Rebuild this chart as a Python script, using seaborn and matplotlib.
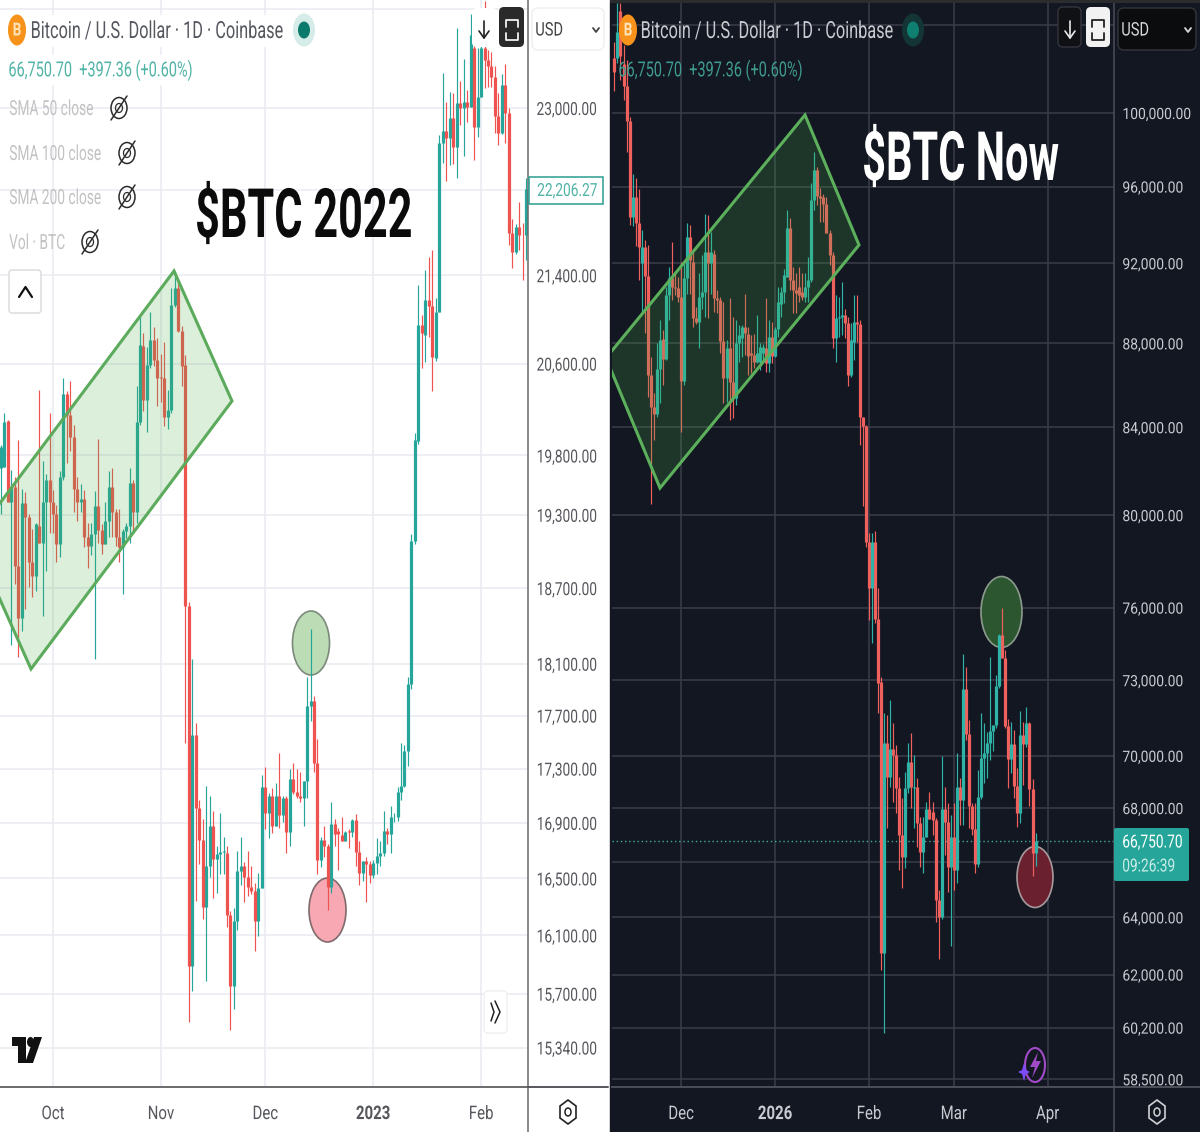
import numpy as np
import pandas as pd
import seaborn as sns
import matplotlib
matplotlib.use("Agg")
import matplotlib.pyplot as plt
from matplotlib.patches import Ellipse, Polygon, Rectangle, FancyBboxPatch
from matplotlib.patheffects import AbstractPathEffect
from matplotlib.ticker import NullLocator
from matplotlib.transforms import Affine2D

# left chart: BTC, days counted from 1 Oct 2022
days_2022 = np.arange(-15, 137)
open_2022 = [19697,19705,20100,19403,19530,18875,18457,19395,19285,18910,
    18800,19210,19070,19403,19590,19410,19310,19055,19620,20335,
    20150,19955,19520,19410,19435,19120,19045,19145,19370,19170,
    19055,19250,19535,19320,19120,19030,19165,19205,19570,19320,
    20085,20760,20283,20590,20814,20636,20485,20475,20135,20195,
    21130,21285,20895,20585,18553,15887,17549,17005,16775,16296,
    16585,16875,16637,16675,16690,16680,16240,15750,16200,16550,
    16590,16510,16440,16410,16200,16435,17160,16975,17095,16880,
    17100,16955,17085,16830,17220,17125,17100,17080,17205,17770,
    17810,17345,16630,16775,16735,16440,16890,16840,16810,16765,
    16840,16830,16920,16690,16540,16625,16600,16525,16610,16660,
    16680,16840,16820,16945,16945,17125,17170,17430,17940,19080,
    19920,20950,20860,21176,21120,20650,21065,22660,22775,22705,
    22900,22620,23050,23000,23060,23010,23600,22815,23110,23600,
    23480,23420,23310,22920,22755,23230,22950,21795,21615,21850,
    21775,21770]
high_2022 = [19893,20170,20109,19680,19620,19936,19520,19495,19305,19180,
    19235,20370,19755,19640,20170,19510,19385,19665,20477,20360,
    20450,20060,19620,19555,19510,19235,19235,19500,19945,19220,
    19410,19665,19690,19345,19345,19180,19235,19690,19596,20405,
    21020,20870,20750,21065,20930,20830,20690,20795,20370,21285,
    21435,21360,20935,20680,18585,18134,17640,17065,16926,17170,
    17100,16985,16735,16975,16800,16730,16270,16290,16695,16795,
    16620,16695,16590,16470,16535,17255,17310,17120,17155,17190,
    17420,17100,17095,17295,17345,17295,17275,17205,17995,18375,
    17847,17520,16800,16875,16750,17050,16926,16865,16940,16840,
    16855,16930,16965,16765,16625,16650,16625,16630,16790,16765,
    16985,16865,17020,16970,17160,17490,17480,17995,19140,19990,
    21313,21040,21450,21570,21635,21195,22735,23350,23060,23160,
    23150,23810,23270,23490,23180,23950,23900,23600,23760,24090,
    23580,23560,23420,23150,23340,23440,23000,21925,21880,22090,
    21890,22320]
low_2022 = [19303,19700,19403,18250,18730,18150,18355,18530,18705,18625,
    18680,19070,18480,18835,19150,19150,18915,18955,19596,19740,
    19840,19320,19245,19320,19030,18860,18965,18134,19070,18980,
    19055,19120,19120,19040,18910,18655,19110,19070,19150,19235,
    20065,20185,20000,20565,20575,20230,20260,20055,20030,20170,
    21110,20885,20400,17495,15510,15717,16340,16600,16212,15785,
    16510,16360,16395,16530,16530,16155,15455,15595,16140,16455,
    16330,16375,16390,15990,16095,16430,16855,16790,16825,16875,
    16865,16905,16680,16735,17115,17085,17055,16875,17080,17655,
    17275,16530,16580,16655,16275,16395,16730,16560,16765,16765,
    16715,16795,16585,16455,16480,16330,16465,16500,16530,16590,
    16660,16745,16680,16905,16910,17070,17165,17320,17900,19060,
    19900,20565,20610,20840,20360,20620,21065,22460,22290,22445,
    22450,22320,22835,22530,22865,23010,22490,22715,23110,23200,
    23210,23210,22755,22635,22745,22655,21680,21470,21600,21635,
    21360,21545]
close_2022 = [19876,20092,19403,19530,18875,18457,19395,19285,18910,18800,
    19220,19070,19403,19590,19410,19310,19055,19620,20335,20150,
    19955,19520,19410,19435,19120,19045,19145,19370,19170,19055,
    19250,19535,19320,19120,19030,19165,19205,19570,19320,20085,
    20770,20283,20590,20814,20636,20475,20475,20135,20195,21130,
    21285,20895,20575,18553,15887,17549,17005,16775,16296,16585,
    16875,16637,16675,16690,16695,16240,15750,16200,16550,16590,
    16510,16440,16410,16200,16435,17160,16975,17095,16880,17100,
    16955,17085,16830,17220,17125,17100,17080,17205,17770,17810,
    17345,16630,16775,16735,16440,16890,16820,16820,16765,16830,
    16830,16920,16690,16540,16625,16600,16525,16610,16660,16680,
    16840,16820,16945,16945,17125,17170,17430,17940,19080,19936,
    20950,20870,21176,21120,20660,21065,22660,22775,22705,22900,
    22620,23050,23000,23060,23010,23735,22815,23110,23600,23480,
    23420,23310,22920,22755,23230,22950,21795,21615,21850,21775,
    21770,22206.27]

# right chart: BTC, days counted from 1 Dec 2025
days_now = np.arange(-22, 118)
open_now = [103100,103100,105800,102755,101510,99557,94390,95450,94080,92010,
    92830,91350,86470,84950,84620,86760,88210,87240,90390,91250,
    90790,90740,90290,86180,91250,93350,92065,89250,89050,90290,
    90540,92580,92010,92480,90240,90140,88115,86320,87770,86130,
    85370,88015,88260,88800,88460,87530,87440,87090,87090,87530,
    87770,87040,88310,87390,88700,89950,90540,91300,93820,91148,
    90640,90790,90540,90290,90790,91148,95290,96870,95500,95450,
    95080,93550,92420,88260,89250,89300,89400,89000,86470,88060,
    89050,88960,84480,84050,78800,76820,78800,75530,72920,62740,
    70495,69180,70260,70030,68750,66990,66170,68750,69760,68750,
    68800,67430,66360,66910,67950,67850,67546,64613,64005,67960,
    67470,65810,66910,65700,68790,68300,72640,70850,68070,67210,
    65915,68415,69910,70110,70500,70970,71200,72760,74850,73900,
    71160,69870,70455,68830,67810,70810,70455,71280,68720,66320]
high_now = [104000,106290,106290,103845,102983,99780,96670,96450,95870,93710,
    93194,92935,87335,85610,88015,89147,88650,90790,91790,93090,
    91500,91300,92065,92010,94080,93975,92680,89810,91500,92400,
    94550,94500,93600,92680,90640,90290,90040,88163,90240,89300,
    89147,88910,88910,90440,88780,88410,88460,89390,88000,87950,
    90240,89147,89050,88780,90790,90790,91690,94760,94340,91790,
    91500,91790,91500,91500,92300,96180,97840,97040,95920,95600,
    95450,93700,92580,90390,90290,91050,89700,89300,89000,90390,
    90390,89147,84480,84100,79200,79200,79300,76820,73125,71680,
    71600,72197,71280,70420,69180,68370,69370,70500,70890,70020,
    69140,67660,67660,68220,68600,68220,67620,64970,69990,68790,
    68190,67735,68190,70110,69140,74060,73530,71400,68190,68190,
    69450,71680,71280,70930,73940,71200,73205,74900,75980,74230,
    71450,71320,71005,69525,71760,71320,71920,71320,69100,67060]
low_now = [101250,102800,101850,100724,97850,93970,93920,92880,91148,89490,
    88510,85420,80495,83404,84500,85130,85985,87190,89147,90142,
    90390,90040,83770,85985,90440,90440,88780,88960,87770,89700,
    89300,89250,90440,89540,89490,87530,85130,85180,84335,84430,
    85040,87090,87340,87440,86470,86570,86810,87040,86710,87190,
    86620,86620,87040,87340,88310,89300,90000,91300,90640,89490,
    89490,90040,90140,90040,90040,91050,94760,95020,94130,94130,
    93550,91900,87770,87090,88310,88410,88260,85950,86370,87190,
    88060,83170,80400,78600,75500,74520,75370,71680,62150,60017,
    67250,68800,68220,67810,65700,65050,65770,68570,68000,67250,
    66540,65820,65590,66910,67580,66980,63830,62530,63945,66250,
    64900,62985,64970,65225,67360,67360,70612,67250,66990,65590,
    65800,68330,68950,69140,69830,70180,71100,72680,73900,71100,
    68760,69330,68375,67290,67430,68870,70340,68070,65480,65840]
close_now = [102300,104590,103230,101510,99557,94390,95450,94080,92830,92830,
    91350,86470,84950,84620,86760,88163,87240,90390,91250,90790,
    90740,90290,86180,91250,93350,92165,89250,89050,90290,90540,
    92580,92010,92580,90240,90140,88115,86320,87770,86130,85370,
    88015,88410,88800,88510,87390,87440,87090,87530,87820,87820,
    87040,88310,87390,88700,90040,90540,91400,93820,91148,90640,
    90490,90390,90290,90790,91148,95290,96870,95500,95390,95080,
    93550,92420,88260,89250,89300,89400,89000,86470,88160,89050,
    88960,84480,84050,78800,76820,78800,75530,72870,62740,70495,
    69180,70260,70030,68750,66990,66170,68750,69760,68800,68800,
    67430,66360,66910,67950,67580,67546,64613,64005,67960,67470,
    65810,66910,65700,68790,68300,72640,70850,68070,67210,65915,
    68415,69910,70110,70500,70970,71200,72760,74850,73900,71160,
    69870,70455,68830,67810,70810,70455,71280,68720,66320,66750.70]

# axis ticks, empty labels sit behind the header or the price box
ticks_2022 = [24000,23000,22200,21400,20600,19800,19300,18700,18100,17700,17300,16900,16500,16100,15700,15340]
ticks_now = [105000,100000,96000,92000,88000,84000,80000,76000,73000,70000,68000,66000,64000,62000,60200,58500]
hidden_2022 = [24000, 22200]
hidden_now = [105000, 66000]
month_days_2022 = [0, 31, 61, 92, 123]
month_labels_2022 = ["Oct", "Nov", "Dec", "2023", "Feb"]
month_days_now = [0, 31, 62, 90, 121]
month_labels_now = ["Dec", "2026", "Feb", "Mar", "Apr"]

W, H = 1200, 1132

sns.set_style("white")
plt.rcParams["font.family"] = ["Roboto", "DejaVu Sans"]

fig = plt.figure(figsize=(W / 100, H / 100), dpi=100, facecolor="white")


class Squeeze(AbstractPathEffect):
    # the screenshot is squashed sideways, no condensed font is installed
    def __init__(self, sx, center=False):
        self.sx = sx
        self.center = center

    def draw_path(self, renderer, gc, tpath, affine, rgbFace=None):
        ext = tpath.get_extents(affine)
        pivot = (ext.x0 + ext.x1) / 2 if self.center else ext.x0
        squeezed = affine + Affine2D().translate(-pivot, 0).scale(self.sx, 1).translate(pivot, 0)
        renderer.draw_path(gc, tpath, squeezed, rgbFace)


def px_axes(x0, x1, y0, y1):
    return fig.add_axes([x0 / W, 1 - y1 / H, (x1 - x0) / W, (y1 - y0) / H])


fig.add_artist(Rectangle((610 / W, 0), 590 / W, 1, transform=fig.transFigure, color="#131722", zorder=-5))

ax_old = px_axes(0, 528, 0, 1087)
ax_new = px_axes(612, 1114, 0, 1087)
ax_new.set_facecolor("#131722")
ov = px_axes(0, W, 0, H)
ov.set_xlim(0, W)
ov.set_ylim(H, 0)
ov.axis("off")
ov.set_zorder(5)


def draw_candles(ax, days, opens, highs, lows, closes, up, down, wick_lw, body_lw):
    opens, highs, lows, closes = map(np.array, (opens, highs, lows, closes))
    side = np.where(closes >= opens, "up", "down")
    pal = {"up": up, "down": down}
    wicks = pd.DataFrame({"day": np.r_[days, days], "price": np.r_[lows, highs], "side": np.r_[side, side]})
    bodies = pd.DataFrame({"day": np.r_[days, days], "price": np.r_[opens, closes], "side": np.r_[side, side]})
    sns.lineplot(data=wicks, x="day", y="price", hue="side", units="day", estimator=None, palette=pal,
                 linewidth=wick_lw, legend=False, ax=ax, solid_capstyle="butt")
    sns.lineplot(data=bodies, x="day", y="price", hue="side", units="day", estimator=None, palette=pal,
                 linewidth=body_lw, legend=False, ax=ax, solid_capstyle="butt")


def setup_axis(ax, xlim, ylim, ticks, hidden, mdays, mlabels, bold, grid, text, line, ysize, ysx):
    ax.set_xlim(*xlim)
    ax.set_ylim(*ylim)
    ax.set_xlabel("")
    ax.set_ylabel("")
    ax.set_yticks(ticks, ["" if t in hidden else f"{t:,.2f}" for t in ticks])
    ax.yaxis.set_minor_locator(NullLocator())
    ax.set_xticks(mdays, mlabels)
    ax.yaxis.tick_right()
    ax.tick_params(axis="y", length=0, pad=6, labelsize=ysize, labelcolor=text)
    ax.tick_params(axis="x", length=0, pad=13, labelsize=13.5, labelcolor=text)
    for t in ax.get_yticklabels():
        t.set_path_effects([Squeeze(ysx)])
    for t in ax.get_xticklabels():
        t.set_path_effects([Squeeze(0.8, center=True)])
    ax.get_xticklabels()[mlabels.index(bold)].set_fontweight("bold")
    ax.grid(True, color=grid, linewidth=1.1)
    ax.set_axisbelow(True)
    sns.despine(ax=ax, left=True, top=True, right=False, bottom=False)
    ax.spines["right"].set_color(line)
    ax.spines["bottom"].set_color(line)
    ax.spines["right"].set_linewidth(1.1)
    ax.spines["bottom"].set_linewidth(1.4)


ax_old.set_yscale("log")
ax_new.set_yscale("log")

# channels lie over the candles, circles under them
ax_old.add_patch(Polygon([(174, 271), (232, 401), (31, 669), (-27, 539)], transform=ov.transData, zorder=3,
                         facecolor=(0.30, 0.69, 0.31, 0.2), edgecolor="#5caa5c", linewidth=2.2))
ax_old.add_patch(Ellipse((311, 643), 37, 64, transform=ov.transData, zorder=1,
                         facecolor="#bcdcb5", edgecolor="#7c8a7c", linewidth=1.2))
ax_old.add_patch(Ellipse((327.5, 910), 37, 64, transform=ov.transData, zorder=1,
                         facecolor="#f7a8b2", edgecolor="#7f6a6c", linewidth=1.2))
ax_new.add_patch(Polygon([(805, 115), (859, 245), (660, 488), (606, 358)], transform=ov.transData, zorder=3,
                         facecolor=(0.30, 0.69, 0.31, 0.2), edgecolor="#5cb05c", linewidth=2.2))
ax_new.add_patch(Ellipse((1001.5, 612), 41, 71, transform=ov.transData, zorder=1,
                         facecolor="#2b5630", edgecolor="#8d9a8d", linewidth=1.2))
ax_new.add_patch(Ellipse((1035, 877), 36, 61, transform=ov.transData, zorder=1,
                         facecolor="#6b2030", edgecolor="#a59a9c", linewidth=1.2))

draw_candles(ax_old, days_2022, open_2022, high_2022, low_2022, close_2022, "#26a69a", "#ef5350", 0.85, 2.3)
draw_candles(ax_new, days_now, open_now, high_now, low_now, close_now, "#2fb3a6", "#f0605c", 0.85, 2.3)
ax_new.axhline(close_now[-1], color="#3fae9f", linewidth=1, linestyle=(0, (1, 2)), zorder=1.5)

setup_axis(ax_old, (-15.23, 136.5), (15081, 24096), ticks_2022, hidden_2022, month_days_2022, month_labels_2022,
           "2023", "#e9ebf1", "#55575d", "#6a6a6a", 13, 0.76)
setup_axis(ax_new, (-22.8, 142.9), (58250, 106470), ticks_now, hidden_now, month_days_now, month_labels_now,
           "2026", "#3b3e4a", "#c9cbd0", "#4c4f5a", 11.2, 0.89)


def label(x, y, s, size=13, color="#555", ha="left", weight="normal", sx=0.76, zorder=6):
    ov.text(x, y + 1.5, s, fontsize=size, color=color, ha=ha, va="center", fontweight=weight, zorder=zorder,
            path_effects=[Squeeze(sx, center=ha == "center")])


def box(x0, y0, x1, y1, face, edge="none", lw=1, rad=4):
    ov.add_patch(FancyBboxPatch((x0 + rad, y0 + rad), x1 - x0 - 2 * rad, y1 - y0 - 2 * rad,
                                boxstyle=f"round,pad={rad},rounding_size={rad}",
                                facecolor=face, edgecolor=edge, linewidth=lw, zorder=5))


def bitcoin_icon(x, y):
    ov.add_patch(Ellipse((x, y), 18, 31, facecolor="#f7931a", edgecolor="none", zorder=5))
    label(x, y - 1, "B", size=13, color="#ffe3b8", ha="center", weight="bold", sx=0.75)


def status_dot(x, y, halo, dot):
    ov.add_patch(Ellipse((x, y), 22, 33, facecolor=halo, edgecolor="none", zorder=5))
    ov.add_patch(Ellipse((x, y), 12, 17, facecolor=dot, edgecolor="none", zorder=6))


def eye_off(x, y):
    ov.add_patch(Ellipse((x, y), 16, 21, facecolor="none", edgecolor="#2b2b2b", linewidth=1.1, zorder=6))
    ov.add_patch(Ellipse((x, y), 7, 9, facecolor="none", edgecolor="#2b2b2b", linewidth=0.9, zorder=6))
    ov.plot([x - 8, x + 8], [y + 12, y - 12], color="#2b2b2b", linewidth=1.1, zorder=6)


def arrow_down(x, color):
    ov.plot([x, x], [21, 38], color=color, linewidth=1.2, zorder=6)
    ov.plot([x - 5, x, x + 5], [31, 38, 31], color=color, linewidth=1.2, zorder=6)


def fullscreen(x, color):
    for top, bot in ((27, 20), (33, 40)):
        ov.plot([x - 6, x - 6, x + 6, x + 6], [top, bot, bot, top], color=color, linewidth=1.3, zorder=6)


def usd_box(x0, x1, face, edge, color):
    box(x0, 8, x1, 50, face, edge, lw=1, rad=6)
    label(x0 + 3, 29, "USD", size=13.5, color=color, sx=0.78)
    ov.plot([x1 - 11, x1 - 8, x1 - 5], [28, 32, 28], color=color, linewidth=1.3, zorder=6)


def hexagon(x, color):
    ov.add_patch(Polygon([(x, 1100), (x + 8, 1106), (x + 8, 1118), (x, 1124), (x - 8, 1118), (x - 8, 1106)],
                         facecolor="none", edgecolor=color, linewidth=1.2, zorder=6))
    ov.add_patch(Ellipse((x, 1112), 6, 8, facecolor="none", edgecolor=color, linewidth=1.1, zorder=6))


# dividers that run past the plot areas
ov.plot([528, 528], [1087, H], color="#6a6a6a", linewidth=1.1, zorder=4)
ov.plot([528, 608], [1087, 1087], color="#55575d", linewidth=1.4, zorder=4)
ov.plot([1114, 1114], [1087, H], color="#4c4f5a", linewidth=1.1, zorder=4)
ov.plot([1114, 1200], [1087, 1087], color="#4c4f5a", linewidth=1.4, zorder=4)
ov.add_patch(Rectangle((610, 0), 590, 3, facecolor="#2b2c2e", edgecolor="none", zorder=4))

# left header and controls
ov.add_patch(Rectangle((0, 15), 292, 32, facecolor="white", edgecolor="none", zorder=4))
ov.add_patch(Rectangle((0, 55), 195, 30, facecolor="white", edgecolor="none", zorder=4))
bitcoin_icon(17, 30)
label(30, 30, "Bitcoin / U.S. Dollar · 1D · Coinbase", size=17, color="#55575f", sx=0.69)
status_dot(304, 30, "#d5ece8", "#0b7a6c")
label(8, 69, "66,750.70  +397.36 (+0.60%)", size=15, color="#4fb3a6", sx=0.695)
label(9, 108, "SMA 50 close", size=15, color="#c2c2c2", sx=0.66)
label(9, 153, "SMA 100 close", size=15, color="#c2c2c2", sx=0.66)
label(9, 197, "SMA 200 close", size=15, color="#c2c2c2", sx=0.66)
label(9, 242, "Vol · BTC", size=15, color="#c2c2c2", sx=0.66)
for ex, ey in ((119, 108), (127, 153), (127, 197), (90, 242)):
    eye_off(ex, ey)
box(9, 270, 41, 313, "white", "#d9d9d9", rad=3)
ov.plot([19, 25.5, 32], [297, 287, 297], color="#111", linewidth=1.6, zorder=6)
label(194, 217, "$BTC 2022", size=49, color="#0b0b0b", weight="bold", sx=0.635)
box(472, 8, 497, 47, "white", rad=5)
arrow_down(484, "#222")
box(499, 7, 524, 47, "#2a2a2a", rad=5)
fullscreen(511.5, "#f2f2f2")
usd_box(532, 604, "white", "#eeeeee", "#444")
ov.add_patch(Rectangle((529, 177), 74, 27, facecolor="white", edgecolor="#2a9d8f", linewidth=1.1, zorder=5))
label(537, 189.5, "22,206.27", size=13, color="#4fb3a6")
# logo
ov.add_patch(Polygon([(12, 1037), (26, 1037), (26, 1063), (18, 1063), (18, 1046), (12, 1046)],
                     facecolor="#111", edgecolor="none", zorder=6))
ov.add_patch(Ellipse((30.5, 1042), 7, 10, facecolor="#111", edgecolor="none", zorder=6))
ov.add_patch(Polygon([(34, 1037), (42, 1037), (33, 1063), (25, 1063)], facecolor="#111", edgecolor="none", zorder=6))
box(484, 991, 507, 1033, "white", "#f0f0f0", rad=4)
ov.plot([491, 494, 491], [1003, 1012, 1021], color="#222", linewidth=1.1, zorder=6)
ov.plot([495, 500, 495], [1001, 1012, 1023], color="#222", linewidth=1.1, zorder=6)
hexagon(568, "#222")

# right header and controls
bitcoin_icon(628, 30)
label(640, 30, "Bitcoin / U.S. Dollar · 1D · Coinbase", size=17, color="#c9cbd0", sx=0.69)
status_dot(913, 30, "#143536", "#0e7f70")
label(618, 69, "66,750.70  +397.36 (+0.60%)", size=15, color="#3f9c90", sx=0.695)
label(861, 160, "$BTC Now", size=49, color="white", weight="bold", sx=0.61)
box(1058, 7, 1081, 47, "#101114", "#34363c", rad=5)
arrow_down(1070, "#e8e8e8")
box(1086, 7, 1110, 47, "#f2f2f2", rad=5)
fullscreen(1098, "#222")
usd_box(1118, 1196, "#0b0c0e", "#34363c", "#d8d8d8")
ov.add_patch(FancyBboxPatch((1116, 830), 71, 49, boxstyle="round,pad=2,rounding_size=2",
                            facecolor="#26a69a", edgecolor="none", zorder=5))
label(1122, 841, "66,750.70", size=13, color="white")
label(1122, 865, "09:26:39", size=13, color="#c9ece7")
hexagon(1157, "#d0d2d6")
# spark badge near the last candle
ov.add_patch(Ellipse((1035, 1065), 20, 34, facecolor="#131722", edgecolor="#a24bc8", linewidth=1.5, zorder=6))
ov.add_patch(Polygon([(1038, 1052), (1030, 1067), (1035, 1067), (1032, 1078), (1041, 1061), (1036, 1061)],
                     facecolor="#a24bc8", edgecolor="none", zorder=7))
ov.add_patch(Polygon([(1024, 1063), (1026, 1070), (1030, 1072), (1026, 1074), (1024, 1081), (1022, 1074),
                      (1018, 1072), (1022, 1070)], facecolor="#7c4dff", edgecolor="none", zorder=7))

fig.savefig("out.png", dpi=100)
